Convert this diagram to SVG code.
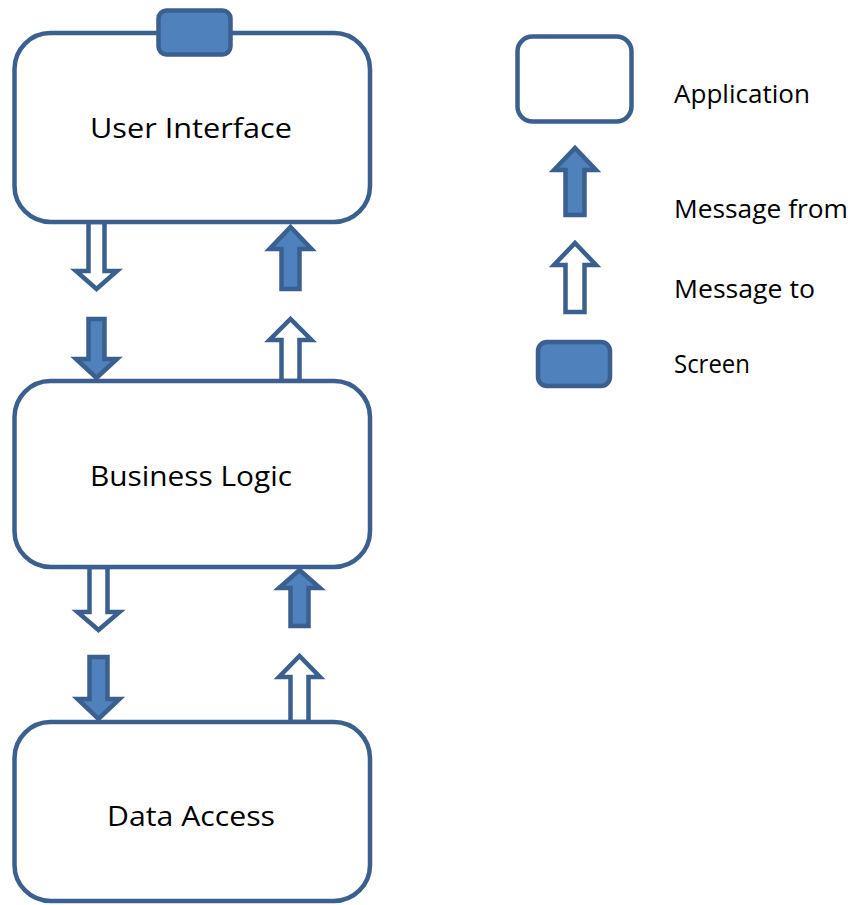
<svg xmlns="http://www.w3.org/2000/svg" width="850" height="905" viewBox="0 0 850 905">
  <defs>
    <style>
      .app { fill: #ffffff; stroke: #3b5f8e; stroke-width: 4.5; }
      .screen { fill: #4f81bd; stroke: #3b5f8e; stroke-width: 4.5; }
      .msg-from { fill: #4f81bd; stroke: #3b5f8e; stroke-width: 4.5; stroke-linejoin: miter; }
      .msg-to { fill: #ffffff; stroke: #3b5f8e; stroke-width: 4.5; stroke-linejoin: miter; }
      .label { font-family: "Open Sans", "Liberation Sans", sans-serif; font-size: 28px; fill: #000000; }
      .legend-label { font-family: "Open Sans", "Liberation Sans", sans-serif; font-size: 26px; fill: #000000; }
    </style>
  </defs>
  <rect width="850" height="905" fill="#ffffff"/>

  <!-- message arrows between the layers -->
  <g id="connectors">
    <!-- User Interface -> Business Logic -->
    <path class="msg-to" d="M88.5,222 H104.5 V271 H117 L96.5,289 L76,271 H88.5 Z"/>
    <path class="msg-from" d="M88.5,319 H104.5 V359 H117 L96.5,378 L76,359 H88.5 Z"/>
    <!-- Business Logic -> User Interface -->
    <path class="msg-from" d="M281.5,289 H299.5 V249 H311.5 L290.5,227 L269.5,249 H281.5 Z"/>
    <path class="msg-to" d="M281.5,381 H299.5 V340 H311.5 L290.5,319 L269.5,340 H281.5 Z"/>
    <!-- Business Logic -> Data Access -->
    <path class="msg-to" d="M89.5,567 H107.5 V612 H119.5 L98.5,630 L77.5,612 H89.5 Z"/>
    <path class="msg-from" d="M89.5,657 H107.5 V699 H119.5 L98.5,719 L77.5,699 H89.5 Z"/>
    <!-- Data Access -> Business Logic -->
    <path class="msg-from" d="M290.5,626 H308.5 V588 H320 L299.5,570 L279,588 H290.5 Z"/>
    <path class="msg-to" d="M290.5,722 H308.5 V677 H320 L299.5,656 L279,677 H290.5 Z"/>
  </g>

  <!-- layers -->
  <g id="user-interface">
    <rect class="app" x="14.5" y="33" width="355.5" height="189" rx="36"/>
    <rect class="screen" x="158.5" y="10.5" width="72" height="44" rx="8"/>
    <text class="label" x="90" y="138" textLength="202" lengthAdjust="spacingAndGlyphs">User Interface</text>
  </g>
  <g id="business-logic">
    <rect class="app" x="14.5" y="381" width="355.5" height="186" rx="36"/>
    <text class="label" x="90" y="486" textLength="202" lengthAdjust="spacingAndGlyphs">Business Logic</text>
  </g>
  <g id="data-access">
    <rect class="app" x="14.5" y="722" width="355.5" height="179" rx="36"/>
    <text class="label" x="107" y="826" textLength="168" lengthAdjust="spacingAndGlyphs">Data Access</text>
  </g>

  <!-- key -->
  <g id="legend-application">
    <rect class="app" x="517.5" y="36.5" width="114" height="85" rx="15"/>
    <text class="legend-label" x="674" y="103" textLength="136" lengthAdjust="spacingAndGlyphs">Application</text>
  </g>
  <g id="legend-message-from">
    <path class="msg-from" d="M565.5,215 H584.5 V170 H596 L575,148 L554,170 H565.5 Z"/>
    <text class="legend-label" x="674" y="218" textLength="174" lengthAdjust="spacingAndGlyphs">Message from</text>
  </g>
  <g id="legend-message-to">
    <path class="msg-to" d="M565.5,312 H584.5 V265 H596 L575,243 L554,265 H565.5 Z"/>
    <text class="legend-label" x="674" y="298" textLength="141" lengthAdjust="spacingAndGlyphs">Message to</text>
  </g>
  <g id="legend-screen">
    <rect class="screen" x="538" y="342" width="72" height="44" rx="9"/>
    <text class="legend-label" x="674" y="373" textLength="76" lengthAdjust="spacingAndGlyphs">Screen</text>
  </g>
</svg>
